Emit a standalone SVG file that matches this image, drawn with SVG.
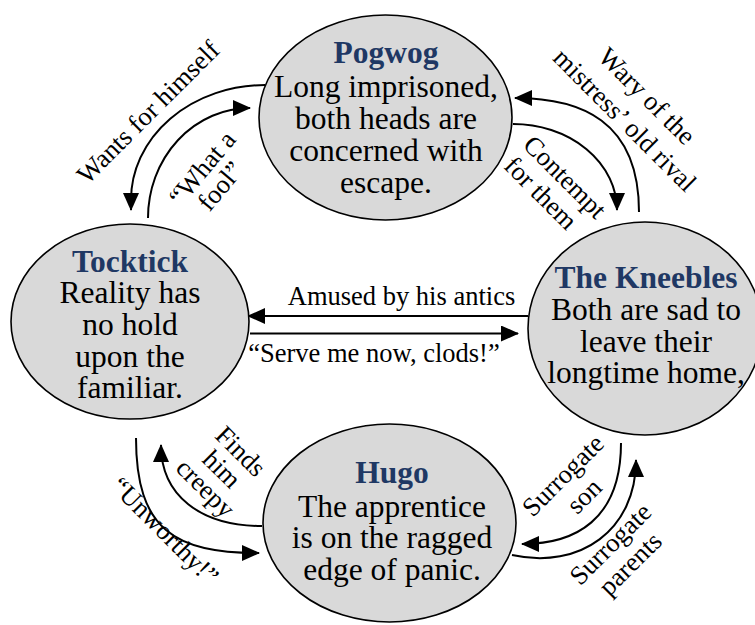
<svg xmlns="http://www.w3.org/2000/svg" width="755" height="625" viewBox="0 0 755 625">
  <style>
    .node { fill: #d9d9d9; stroke: #000; stroke-width: 1.6; }
    .title { font-weight: bold; fill: #1f3864; }
    .body { font-family: "Liberation Serif", "Times New Roman", serif; font-size: 31.5px; fill: #000; text-anchor: middle; }
    .conn { fill: none; stroke: #000; stroke-width: 2; }
    .lbl { font-family: "Liberation Serif", "Times New Roman", serif; font-size: 26.5px; fill: #000; text-anchor: middle; }
  </style>
  <defs>
    <marker id="arrow" markerUnits="userSpaceOnUse" markerWidth="18" markerHeight="16" viewBox="0 0 18 16" refX="17" refY="8" orient="auto">
      <path d="M0,0 L18,8 L0,16 z" fill="#000"/>
    </marker>
  </defs>

  <g id="connectors">
    <path class="conn" d="M265,85 A134,115 0 0 0 131,200 L131,210" marker-end="url(#arrow)"/>
    <path class="conn" d="M148,218 A102,110 0 0 1 250,108" marker-end="url(#arrow)"/>
    <path class="conn" d="M639,212 C639,120 580,98 515,98" marker-end="url(#arrow)"/>
    <path class="conn" d="M513,124 A104,86 0 0 1 617,210" marker-end="url(#arrow)"/>
    <path class="conn" d="M528,316 L248,316" marker-end="url(#arrow)"/>
    <path class="conn" d="M250,333.5 L518,333.5" marker-end="url(#arrow)"/>
    <path class="conn" d="M136,438 C136,530 175,553 259,553" marker-end="url(#arrow)"/>
    <path class="conn" d="M262,526 C200,526 161,495 161,445" marker-end="url(#arrow)"/>
    <path class="conn" d="M621,443 C621,520 575,544 522,544" marker-end="url(#arrow)"/>
    <path class="conn" d="M512,555 C580,570 636,530 636,460" marker-end="url(#arrow)"/>

    <text class="lbl" transform="translate(148,112) rotate(-45)" x="0" y="9">Wants for himself</text>
    <text class="lbl" transform="translate(211,177) rotate(-50)"><tspan x="1" y="-3.7">“What a</tspan><tspan x="-1" y="21.7">fool”</tspan></text>
    <text class="lbl" transform="translate(635,109) rotate(45)"><tspan x="-0.7" y="-8.8">Wary of the</tspan><tspan x="0.7" y="23.8">mistress’ old rival</tspan></text>
    <text class="lbl" transform="translate(552,186) rotate(45)"><tspan x="2.8" y="-6.7">Contempt</tspan><tspan x="-2.8" y="21.7">for them</tspan></text>
    <text class="lbl" x="401.5" y="305">Amused by his antics</text>
    <text class="lbl" x="374" y="362">“Serve me now, clods!”</text>
    <text class="lbl" transform="translate(222,469) rotate(45)"><tspan x="0.7" y="-17">Finds</tspan><tspan x="0" y="9">him</tspan><tspan x="2" y="34">creepy</tspan></text>
    <text class="lbl" transform="translate(163,533) rotate(45)" x="0" y="6">“Unworthy!”</text>
    <text class="lbl" transform="translate(575.5,488) rotate(-45)"><tspan x="0" y="-9">Surrogate</tspan><tspan x="0.4" y="20.5">son</tspan></text>
    <text class="lbl" transform="translate(622.75,556.25) rotate(-45)"><tspan x="0" y="-8.7">Surrogate</tspan><tspan x="0" y="19.3">parents</tspan></text>
  </g>

  <g id="pogwog">
    <ellipse class="node" cx="385.5" cy="117.5" rx="126.5" ry="102.5"/>
    <text class="body"><tspan class="title" x="386" y="63">Pogwog</tspan><tspan x="386" y="97">Long imprisoned,</tspan><tspan x="386" y="129">both heads are</tspan><tspan x="386" y="161">concerned with</tspan><tspan x="386" y="193">escape.</tspan></text>
  </g>

  <g id="tocktick">
    <ellipse class="node" cx="130" cy="321.5" rx="119" ry="97.5"/>
    <text class="body"><tspan class="title" x="130" y="272">Tocktick</tspan><tspan x="130" y="303">Reality has</tspan><tspan x="130" y="335">no hold</tspan><tspan x="130" y="367">upon the</tspan><tspan x="130" y="398">familiar.</tspan></text>
  </g>

  <g id="kneebles">
    <ellipse class="node" cx="645" cy="328.5" rx="117" ry="106.5"/>
    <text class="body"><tspan class="title" x="646" y="288">The Kneebles</tspan><tspan x="646" y="320">Both are sad to</tspan><tspan x="646" y="352">leave their</tspan><tspan x="646" y="383">longtime home,</tspan></text>
  </g>

  <g id="hugo">
    <ellipse class="node" cx="389.5" cy="523" rx="126.5" ry="99"/>
    <text class="body"><tspan class="title" x="392" y="483">Hugo</tspan><tspan x="392" y="517">The apprentice</tspan><tspan x="392" y="548">is on the ragged</tspan><tspan x="392" y="580">edge of panic.</tspan></text>
  </g>
</svg>
